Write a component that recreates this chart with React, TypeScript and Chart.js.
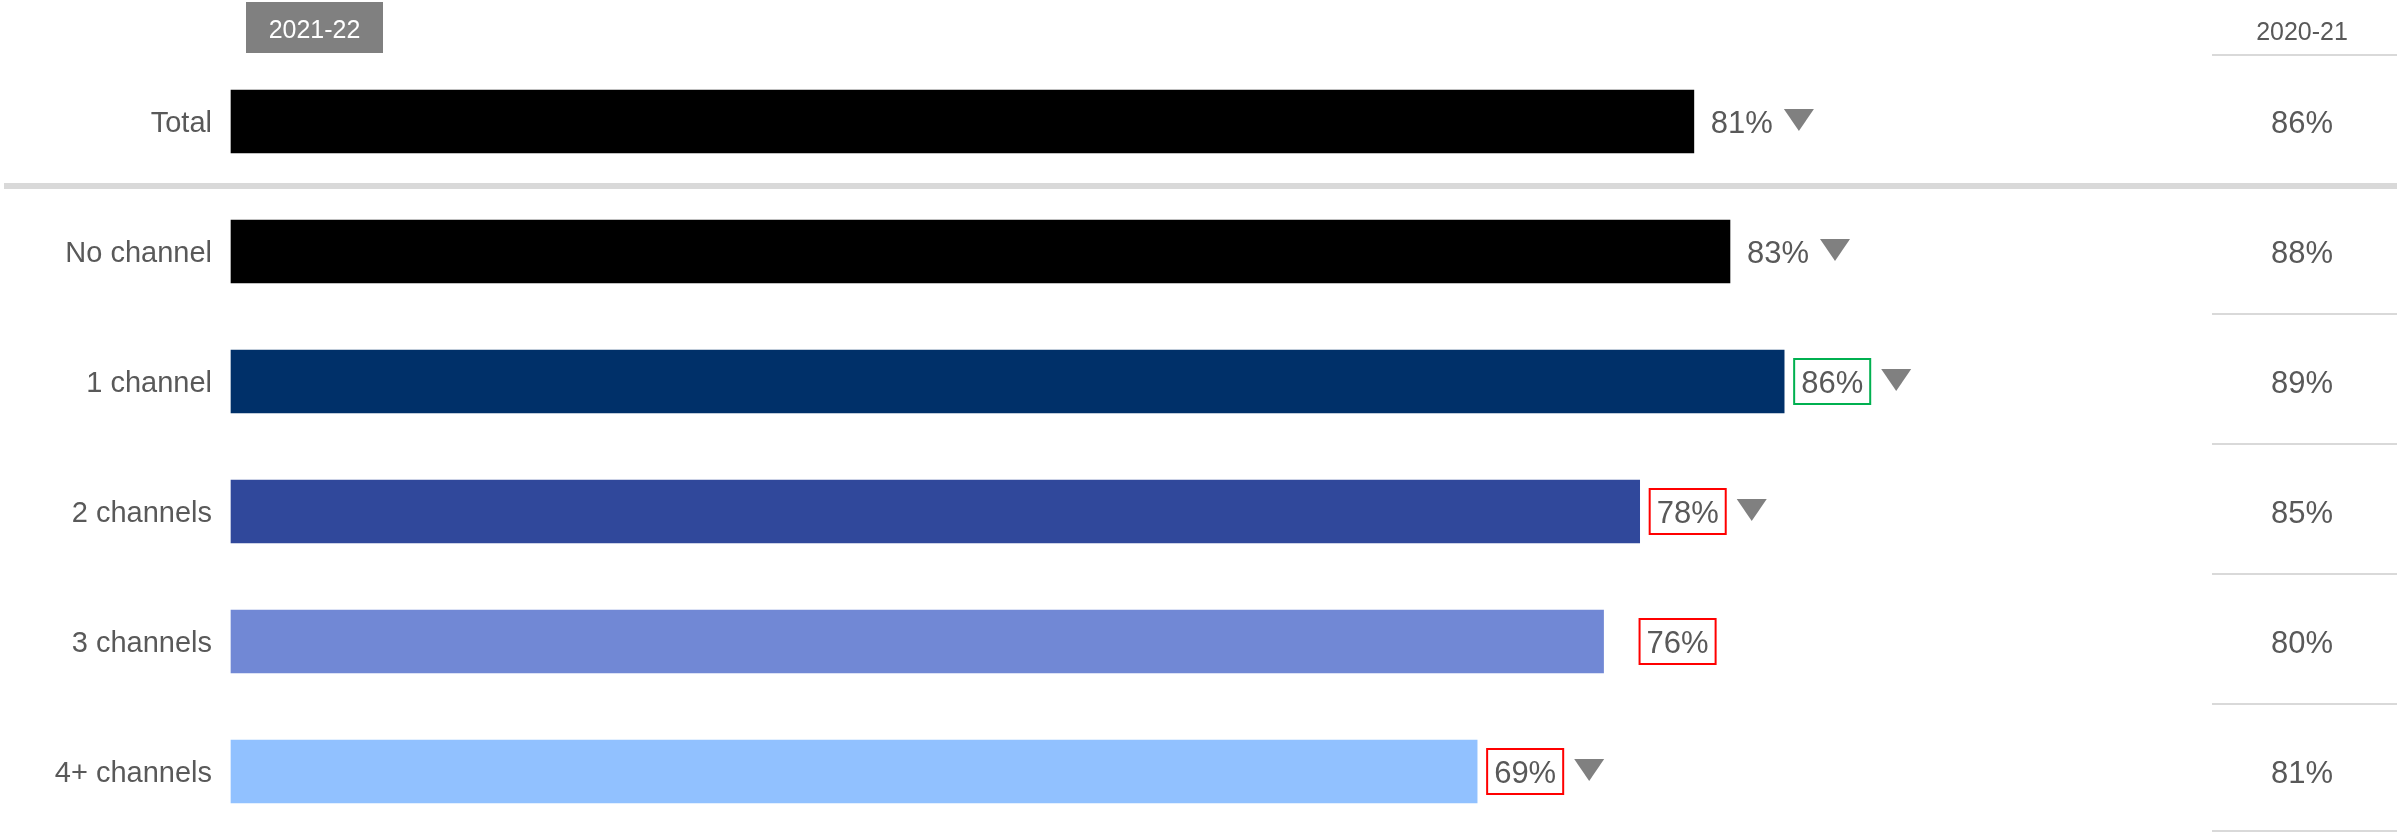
import React, { useEffect, useRef } from "react";
import { Chart, registerables } from "chart.js";

Chart.register(...registerables);

const categories = ["Total", "No channel", "1 channel", "2 channels", "3 channels", "4+ channels"];
const values2122 = [81, 83, 86, 78, 76, 69];
const values2021 = [86, 88, 89, 85, 80, 81];
const barColors = ["#000000", "#000000", "#003069", "#30489B", "#7188D5", "#91C1FF"];
// significance vs comparison: "higher" -> green box, "lower" -> red box, "" -> none
const significance = ["", "", "higher", "lower", "lower", "lower"];
const downArrows = [true, true, true, true, false, true];
const currentLabel = "2021-22";
const previousLabel = "2020-21";

const FONT = '"Liberation Sans", Arial, Helvetica, sans-serif';
const TEXT = "#595959";
const GRID = "#d9d9d9";

const overlayPlugin = {
  id: "overlay",
  afterDatasetsDraw(chart: any) {
    const ctx = chart.ctx as CanvasRenderingContext2D;
    const xs = chart.scales.x;
    const ys = chart.scales.y;
    const W = chart.width;
    ctx.save();
    ctx.textBaseline = "alphabetic";

    // current-year header box
    ctx.fillStyle = "#808080";
    ctx.fillRect(246, 2, 137, 51);
    ctx.fillStyle = "#ffffff";
    ctx.font = `25px ${FONT}`;
    ctx.textAlign = "center";
    ctx.fillText(currentLabel, 314.5, 38);

    // comparison column header
    const colX = 2302;
    ctx.fillStyle = TEXT;
    ctx.font = `25px ${FONT}`;
    ctx.fillText(previousLabel, colX, 40);
    ctx.fillStyle = GRID;
    ctx.fillRect(2212, 54, W - 2212, 2);

    // thick separator below Total
    const sepY = (ys.getPixelForValue(0) + ys.getPixelForValue(1)) / 2 - 1;
    ctx.fillStyle = GRID;
    ctx.fillRect(4, Math.round(sepY - 3), W - 4, 6);

    categories.forEach((cat, i) => {
      const cy = ys.getPixelForValue(i);

      // category label
      ctx.fillStyle = TEXT;
      ctx.font = `29px ${FONT}`;
      ctx.textAlign = "right";
      ctx.fillText(cat, 212, cy + 10);

      // value label
      const xe = xs.getPixelForValue(values2122[i]);
      ctx.font = `31px ${FONT}`;
      ctx.textAlign = "left";
      const txt = `${values2122[i]}%`;
      const w = ctx.measureText(txt).width;
      let endX: number;
      const sig = significance[i];
      if (sig) {
        const boxL = xe + (downArrows[i] ? 10 : 36);
        const boxW = w + 14;
        ctx.strokeStyle = sig === "higher" ? "#00B050" : "#FF0000";
        ctx.lineWidth = 2;
        ctx.strokeRect(boxL, Math.round(cy - 22.5), boxW, 45);
        ctx.fillStyle = TEXT;
        ctx.fillText(txt, boxL + 7, cy + 11);
        endX = boxL + boxW;
      } else {
        ctx.fillStyle = TEXT;
        ctx.fillText(txt, xe + 17, cy + 11);
        endX = xe + 17 + w;
      }

      // trend triangle
      if (downArrows[i]) {
        const tx = endX + 11;
        const ty = cy - 12.5;
        ctx.fillStyle = "#808080";
        ctx.beginPath();
        ctx.moveTo(tx, ty);
        ctx.lineTo(tx + 30, ty);
        ctx.lineTo(tx + 15, ty + 22);
        ctx.closePath();
        ctx.fill();
      }

      // comparison value
      ctx.fillStyle = TEXT;
      ctx.font = `31px ${FONT}`;
      ctx.textAlign = "center";
      ctx.fillText(`${values2021[i]}%`, colX, cy + 11);

      // row separators in comparison column
      if (i > 0) {
        ctx.fillStyle = GRID;
        ctx.fillRect(2212, Math.min(Math.round(cy + 61.5), chart.height - 2), W - 2212, 2);
      }
    });

    ctx.restore();
  },
};

export default function App() {
  const canvasRef = useRef<HTMLCanvasElement | null>(null);

  useEffect(() => {
    document.body.style.margin = "0";
    const canvas = canvasRef.current;
    if (!canvas) return;
    const chart = new Chart(canvas, {
      type: "bar",
      data: {
        labels: categories,
        datasets: [
          {
            label: currentLabel,
            data: values2122,
            backgroundColor: barColors,
            borderWidth: 0,
            barThickness: 63,
            clip: false as any,
          },
        ],
      },
      options: {
        indexAxis: "y",
        responsive: false,
        animation: false,
        devicePixelRatio: 1,
        layout: { padding: { left: 231, right: 360, top: 121.5, bottom: 60.5 } },
        plugins: { legend: { display: false }, tooltip: { enabled: false } },
        scales: {
          x: { type: "linear", min: 0, max: 100, display: false },
          y: { type: "category", offset: false, display: false, grid: { offset: false } },
        },
      },
      plugins: [overlayPlugin],
    });
    return () => chart.destroy();
  }, []);

  return (
    <div style={{ width: 2397, height: 832, background: "#ffffff" }}>
      <canvas ref={canvasRef} width={2397} height={832} style={{ display: "block" }} />
    </div>
  );
}
